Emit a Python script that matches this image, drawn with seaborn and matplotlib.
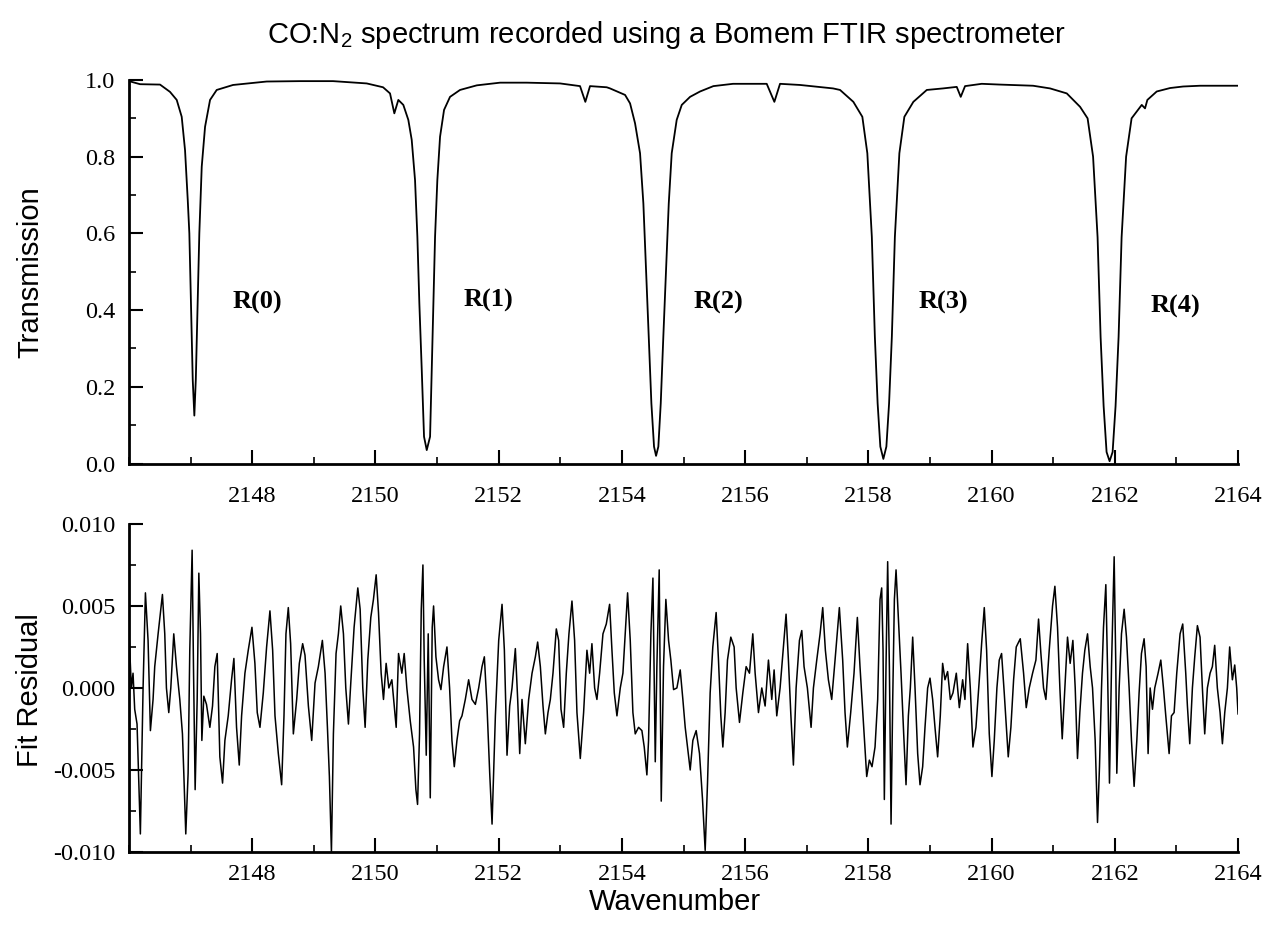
import matplotlib
matplotlib.use('Agg')
import matplotlib.pyplot as plt
from matplotlib.ticker import MultipleLocator, FormatStrFormatter
import numpy as np
import pandas as pd
import seaborn as sns

# transmission spectrum (fit)
wn_top = [2146.000, 2146.179, 2146.503, 2146.665, 2146.774, 2146.855, 2146.909, 2146.953,
          2146.979, 2147.034, 2147.060, 2147.084, 2147.141, 2147.180, 2147.234, 2147.315,
          2147.423, 2147.688, 2148.235, 2148.775, 2149.311, 2149.858, 2150.123, 2150.236,
          2150.306, 2150.371, 2150.452, 2150.533, 2150.588, 2150.642, 2150.680, 2150.712,
          2150.751, 2150.788, 2150.832, 2150.886, 2150.913, 2150.940, 2150.967, 2151.004,
          2151.048, 2151.113, 2151.210, 2151.372, 2151.644, 2152.022, 2152.455, 2152.996,
          2153.320, 2153.406, 2153.482, 2153.753, 2153.807, 2154.051, 2154.132, 2154.213,
          2154.294, 2154.348, 2154.392, 2154.435, 2154.478, 2154.521, 2154.554, 2154.591,
          2154.630, 2154.672, 2154.716, 2154.760, 2154.808, 2154.889, 2154.971, 2155.106,
          2155.268, 2155.484, 2155.803, 2156.350, 2156.474, 2156.566, 2156.891, 2157.427,
          2157.540, 2157.756, 2157.902, 2157.983, 2158.056, 2158.105, 2158.150, 2158.194,
          2158.243, 2158.292, 2158.336, 2158.381, 2158.430, 2158.503, 2158.584, 2158.730,
          2158.948, 2159.212, 2159.434, 2159.499, 2159.569, 2159.840, 2160.137, 2160.673,
          2160.949, 2161.220, 2161.436, 2161.558, 2161.647, 2161.720, 2161.769, 2161.818,
          2161.866, 2161.915, 2161.964, 2162.012, 2162.061, 2162.110, 2162.183, 2162.272,
          2162.437, 2162.490, 2162.528, 2162.680, 2162.897, 2163.108, 2163.384, 2164.000]
trans = [0.997, 0.989, 0.988, 0.969, 0.948, 0.904, 0.817, 0.687,
         0.600, 0.218, 0.125, 0.220, 0.600, 0.774, 0.878, 0.948,
         0.974, 0.987, 0.996, 0.997, 0.997, 0.991, 0.981, 0.965,
         0.913, 0.948, 0.935, 0.896, 0.844, 0.739, 0.591, 0.418,
         0.244, 0.070, 0.035, 0.070, 0.244, 0.418, 0.591, 0.739,
         0.852, 0.922, 0.956, 0.974, 0.986, 0.993, 0.993, 0.991,
         0.984, 0.943, 0.984, 0.981, 0.978, 0.961, 0.939, 0.887,
         0.809, 0.678, 0.505, 0.331, 0.157, 0.044, 0.020, 0.044,
         0.157, 0.331, 0.505, 0.678, 0.809, 0.896, 0.935, 0.956,
         0.970, 0.984, 0.990, 0.990, 0.943, 0.990, 0.987, 0.978,
         0.974, 0.943, 0.904, 0.809, 0.591, 0.331, 0.157, 0.044,
         0.012, 0.044, 0.157, 0.331, 0.591, 0.809, 0.904, 0.943,
         0.974, 0.978, 0.982, 0.956, 0.984, 0.990, 0.988, 0.985,
         0.978, 0.965, 0.930, 0.900, 0.800, 0.590, 0.330, 0.150,
         0.030, 0.006, 0.030, 0.150, 0.330, 0.590, 0.800, 0.900,
         0.935, 0.926, 0.948, 0.970, 0.979, 0.983, 0.985, 0.985]

# fit residual, in units of 1e-3
wn_res = [2146.000, 2146.038, 2146.065, 2146.092, 2146.130, 2146.184, 2146.228, 2146.266,
          2146.309, 2146.347, 2146.390, 2146.417, 2146.472, 2146.542, 2146.580, 2146.607,
          2146.645, 2146.678, 2146.726, 2146.770, 2146.824, 2146.867, 2146.889, 2146.921,
          2146.959, 2146.986, 2147.024, 2147.046, 2147.073, 2147.106, 2147.133, 2147.160,
          2147.182, 2147.214, 2147.257, 2147.312, 2147.355, 2147.393, 2147.431, 2147.474,
          2147.518, 2147.556, 2147.610, 2147.664, 2147.702, 2147.745, 2147.789, 2147.827,
          2147.881, 2147.935, 2147.995, 2148.043, 2148.081, 2148.125, 2148.179, 2148.233,
          2148.287, 2148.331, 2148.369, 2148.423, 2148.477, 2148.515, 2148.547, 2148.585,
          2148.623, 2148.667, 2148.721, 2148.764, 2148.818, 2148.856, 2148.911, 2148.965,
          2149.019, 2149.073, 2149.138, 2149.182, 2149.220, 2149.252, 2149.285, 2149.317,
          2149.360, 2149.398, 2149.436, 2149.480, 2149.518, 2149.561, 2149.599, 2149.653,
          2149.713, 2149.751, 2149.794, 2149.832, 2149.875, 2149.924, 2149.967, 2150.011,
          2150.049, 2150.092, 2150.130, 2150.173, 2150.217, 2150.266, 2150.304, 2150.336,
          2150.374, 2150.428, 2150.466, 2150.509, 2150.564, 2150.618, 2150.656, 2150.683,
          2150.715, 2150.743, 2150.770, 2150.791, 2150.824, 2150.856, 2150.889, 2150.921,
          2150.943, 2150.981, 2151.024, 2151.062, 2151.106, 2151.160, 2151.203, 2151.241,
          2151.279, 2151.322, 2151.366, 2151.404, 2151.458, 2151.512, 2151.566, 2151.621,
          2151.675, 2151.729, 2151.767, 2151.810, 2151.854, 2151.892, 2151.946, 2152.000,
          2152.054, 2152.092, 2152.135, 2152.178, 2152.216, 2152.270, 2152.308, 2152.341,
          2152.378, 2152.432, 2152.486, 2152.541, 2152.595, 2152.632, 2152.676, 2152.719,
          2152.757, 2152.800, 2152.838, 2152.881, 2152.935, 2152.973, 2153.011, 2153.054,
          2153.097, 2153.140, 2153.189, 2153.232, 2153.270, 2153.324, 2153.378, 2153.432,
          2153.476, 2153.513, 2153.557, 2153.594, 2153.638, 2153.692, 2153.746, 2153.800,
          2153.838, 2153.876, 2153.919, 2153.973, 2154.016, 2154.054, 2154.092, 2154.135,
          2154.178, 2154.216, 2154.270, 2154.324, 2154.362, 2154.405, 2154.432, 2154.470,
          2154.503, 2154.541, 2154.567, 2154.605, 2154.638, 2154.675, 2154.713, 2154.757,
          2154.794, 2154.838, 2154.892, 2154.946, 2154.989, 2155.027, 2155.065, 2155.108,
          2155.151, 2155.205, 2155.259, 2155.308, 2155.351, 2155.389, 2155.432, 2155.475,
          2155.529, 2155.567, 2155.605, 2155.638, 2155.675, 2155.713, 2155.767, 2155.821,
          2155.854, 2155.908, 2155.962, 2156.016, 2156.070, 2156.124, 2156.162, 2156.216,
          2156.270, 2156.324, 2156.378, 2156.432, 2156.470, 2156.513, 2156.567, 2156.621,
          2156.664, 2156.702, 2156.740, 2156.783, 2156.827, 2156.881, 2156.919, 2156.956,
          2157.010, 2157.070, 2157.108, 2157.162, 2157.216, 2157.259, 2157.302, 2157.351,
          2157.405, 2157.459, 2157.529, 2157.583, 2157.621, 2157.659, 2157.713, 2157.767,
          2157.821, 2157.864, 2157.910, 2157.973, 2158.016, 2158.059, 2158.108, 2158.151,
          2158.189, 2158.216, 2158.238, 2158.259, 2158.286, 2158.313, 2158.341, 2158.368,
          2158.395, 2158.422, 2158.449, 2158.486, 2158.530, 2158.573, 2158.611, 2158.649,
          2158.681, 2158.719, 2158.757, 2158.800, 2158.838, 2158.881, 2158.919, 2158.962,
          2159.000, 2159.043, 2159.081, 2159.124, 2159.167, 2159.205, 2159.243, 2159.286,
          2159.330, 2159.373, 2159.427, 2159.476, 2159.530, 2159.567, 2159.611, 2159.654,
          2159.697, 2159.746, 2159.800, 2159.838, 2159.881, 2159.919, 2159.962, 2160.005,
          2160.043, 2160.086, 2160.124, 2160.162, 2160.205, 2160.270, 2160.313, 2160.357,
          2160.400, 2160.465, 2160.519, 2160.562, 2160.611, 2160.665, 2160.719, 2160.762,
          2160.800, 2160.843, 2160.881, 2160.935, 2160.989, 2161.027, 2161.070, 2161.108,
          2161.146, 2161.189, 2161.232, 2161.275, 2161.319, 2161.357, 2161.394, 2161.432,
          2161.475, 2161.513, 2161.557, 2161.600, 2161.638, 2161.681, 2161.719, 2161.751,
          2161.784, 2161.816, 2161.854, 2161.881, 2161.913, 2161.946, 2161.989, 2162.016,
          2162.032, 2162.070, 2162.108, 2162.151, 2162.189, 2162.232, 2162.270, 2162.313,
          2162.357, 2162.394, 2162.432, 2162.475, 2162.508, 2162.540, 2162.573, 2162.611,
          2162.648, 2162.702, 2162.746, 2162.789, 2162.827, 2162.881, 2162.919, 2162.962,
          2163.005, 2163.059, 2163.102, 2163.151, 2163.178, 2163.216, 2163.259, 2163.297,
          2163.340, 2163.383, 2163.421, 2163.459, 2163.502, 2163.546, 2163.583, 2163.621,
          2163.664, 2163.708, 2163.746, 2163.784, 2163.827, 2163.864, 2163.908, 2163.946,
          2163.978, 2164.000]
resid_milli = [3.3, 0.0, 0.9, -1.3, -2.2, -8.9, 0.0, 5.8,
               2.9, -2.6, -0.7, 1.3, 3.3, 5.7, 3.3, 0.0,
               -1.5, 0.0, 3.3, 1.3, -0.7, -2.8, -5.2, -8.9,
               -5.2, 2.3, 8.4, 1.3, -6.2, -0.7, 7.0, 3.3,
               -3.2, -0.5, -1.0, -2.4, -1.1, 1.3, 2.1, -4.2,
               -5.8, -3.2, -1.7, 0.5, 1.8, -2.4, -4.7, -1.7,
               0.9, 2.3, 3.7, 1.5, -1.5, -2.4, -0.3, 2.5,
               4.7, 2.3, -1.7, -4.0, -5.9, -1.7, 3.3, 4.9,
               2.7, -2.8, -0.7, 1.5, 2.7, 2.0, -1.1, -3.2,
               0.3, 1.3, 2.9, 0.9, -2.4, -5.4, -10.0, -2.8,
               2.1, 3.3, 5.0, 3.3, 0.0, -2.2, 0.3, 3.7,
               6.1, 4.8, 0.0, -2.4, 1.7, 4.3, 5.4, 6.9,
               4.6, 0.9, -0.7, 1.5, 0.0, 0.5, -1.1, -2.4,
               2.1, 0.9, 2.1, 0.0, -2.0, -3.6, -6.2, -7.1,
               -2.8, 4.8, 7.5, 1.7, -4.1, 3.3, -6.7, 3.7,
               5.0, 1.9, 0.5, -0.1, 1.3, 2.5, 0.0, -3.2,
               -4.8, -3.2, -2.0, -1.7, -0.7, 0.5, -0.7, -1.0,
               0.0, 1.3, 1.9, -1.1, -5.2, -8.3, -1.7, 2.9,
               5.1, 2.3, -4.1, -1.1, 0.0, 2.4, -0.7, -4.0,
               -0.7, -3.4, -0.7, 0.9, 1.9, 2.8, 1.3, -1.1,
               -2.8, -1.5, -0.7, 0.9, 3.6, 2.9, -1.3, -2.4,
               0.9, 3.3, 5.3, 2.9, -1.5, -4.3, -1.5, 2.3,
               0.9, 2.7, 0.0, -0.7, 0.9, 3.3, 3.9, 5.1,
               2.3, -0.3, -1.7, 0.0, 0.9, 3.3, 5.8, 2.9,
               -1.5, -2.8, -2.4, -2.6, -3.6, -5.3, -3.2, 3.3,
               6.7, -4.5, 1.3, 7.2, -6.9, 1.3, 5.4, 2.9,
               1.7, -0.1, 0.0, 1.1, -0.7, -2.4, -3.6, -5.0,
               -3.2, -2.6, -4.0, -6.8, -9.9, -5.8, -0.3, 2.5,
               4.6, 1.7, -1.7, -3.6, -1.5, 1.7, 3.1, 2.5,
               0.0, -2.1, -0.3, 1.3, 0.9, 3.3, 0.9, -1.5,
               0.0, -1.1, 1.7, -0.7, 1.1, -1.7, 0.0, 2.5,
               4.5, 1.7, -1.5, -4.7, 0.0, 2.9, 3.5, 1.3,
               0.0, -2.4, 0.0, 1.7, 3.3, 4.9, 2.3, 0.5,
               -0.7, 1.7, 4.9, 1.7, -1.5, -3.6, -1.5, 0.9,
               4.3, 1.3, -1.5, -5.4, -4.4, -4.8, -3.6, -0.7,
               5.4, 6.1, 2.3, -6.8, 1.3, 7.7, 1.3, -8.3,
               -0.7, 5.4, 7.2, 4.3, 0.9, -2.8, -5.9, -1.7,
               0.0, 3.1, 0.0, -4.0, -5.9, -4.8, -2.4, 0.0,
               0.6, -0.7, -2.4, -4.2, -1.7, 1.5, 0.5, 1.0,
               -0.7, -0.3, 0.9, -1.2, 0.5, -0.7, 2.7, 0.0,
               -3.6, -2.4, 0.5, 2.7, 4.9, 2.3, -2.8, -5.4,
               -3.2, 0.0, 1.7, 2.1, -0.3, -4.2, -2.4, 0.5,
               2.5, 3.0, 0.9, -1.2, 0.0, 0.9, 1.7, 4.2,
               2.1, 0.0, -0.7, 2.3, 5.0, 6.2, 3.7, 0.0,
               -3.1, 0.0, 3.1, 1.5, 2.9, 0.0, -4.3, -1.5,
               0.9, 2.3, 3.3, 1.3, 0.0, -3.2, -8.2, -4.8,
               0.0, 3.7, 6.3, 1.3, -5.8, 1.3, 8.0, 1.3,
               -5.2, 0.0, 3.3, 4.8, 3.1, 0.0, -3.2, -6.0,
               -3.2, -0.3, 2.1, 3.0, 1.3, -4.0, 0.0, -1.3,
               0.0, 0.9, 1.7, 0.0, -1.7, -4.0, -1.7, -1.5,
               0.9, 3.3, 3.9, 0.9, -1.1, -3.4, 0.0, 1.9,
               3.8, 3.1, 0.0, -2.8, 0.0, 0.9, 1.3, 2.6,
               0.0, -1.5, -3.4, -1.5, 0.0, 2.5, 0.5, 1.4,
               0.0, -1.6]

line_labels = ['R(0)', 'R(1)', 'R(2)', 'R(3)', 'R(4)']
label_x = [2148.09, 2151.84, 2155.56, 2159.21, 2162.98]
label_y = [0.421, 0.426, 0.420, 0.419, 0.410]

df_top = pd.DataFrame({'wn': wn_top, 'T': trans})
df_res = pd.DataFrame({'wn': wn_res, 'res': np.array(resid_milli) * 1e-3})

sns.set_style('ticks')
plt.rcParams['font.family'] = ['Liberation Serif', 'DejaVu Serif']
plt.rcParams['mathtext.fontset'] = 'custom'
plt.rcParams['mathtext.rm'] = 'Liberation Sans'
plt.rcParams['text.color'] = 'black'
plt.rcParams['axes.edgecolor'] = 'black'
plt.rcParams['xtick.color'] = 'black'
plt.rcParams['ytick.color'] = 'black'

fig = plt.figure(figsize=(12.65, 9.3), dpi=100)
ax1 = fig.add_axes([0.102, 0.5016, 0.8767, 0.4124])
ax2 = fig.add_axes([0.102, 0.0839, 0.8767, 0.3527])

sns.lineplot(data=df_top, x='wn', y='T', ax=ax1, color='black', lw=1.3, estimator=None)
sns.lineplot(data=df_res, x='wn', y='res', ax=ax2, color='black', lw=1.1, estimator=None)

for a in (ax1, ax2):
    a.set_xlim(2146, 2164)
    a.xaxis.set_minor_locator(MultipleLocator(1))
    a.set_xticks([2148, 2150, 2152, 2154, 2156, 2158, 2160, 2162, 2164])
    a.tick_params(which='major', direction='in', length=10, width=1.5, labelsize=17.5,
                  colors='black')
    a.tick_params(which='minor', direction='in', length=5, width=1.2, colors='black')
    a.tick_params(axis='y', pad=10)
    a.set_xlabel('')
    a.set_ylabel('')
    for s in ('left', 'bottom'):
        a.spines[s].set_linewidth(2.0)
        a.spines[s].set_color('black')
    sns.despine(ax=a)

ax1.set_ylim(0, 1.0)
ax1.yaxis.set_major_locator(MultipleLocator(0.2))
ax1.yaxis.set_minor_locator(MultipleLocator(0.1))
ax1.yaxis.set_major_formatter(FormatStrFormatter('%.1f'))
ax1.tick_params(axis='x', pad=16)

ax2.set_ylim(-0.010, 0.010)
ax2.yaxis.set_major_locator(MultipleLocator(0.005))
ax2.yaxis.set_minor_locator(MultipleLocator(0.0025))
ax2.yaxis.set_major_formatter(FormatStrFormatter('%.3f'))
ax2.tick_params(axis='x', pad=9)

for lab, lx, ly in zip(line_labels, label_x, label_y):
    ax1.text(lx, ly, lab, fontsize=19, fontweight='bold', ha='center', va='center')

sans = ['Liberation Sans', 'DejaVu Sans']
fig.text(0.5265, 0.9624, 'CO:N$_\\mathregular{2}$ spectrum recorded using a Bomem FTIR spectrometer',
         ha='center', va='center', fontsize=21, family=sans)
fig.text(0.0237, 0.7075, 'Transmission', rotation=90, ha='center', va='center',
         fontsize=21, family=sans)
fig.text(0.0237, 0.258, 'Fit Residual', rotation=90, ha='center', va='center',
         fontsize=21, family=sans)
fig.text(0.5336, 0.030, 'Wavenumber', ha='center', va='center', fontsize=21, family=sans)

fig.savefig('out.png', dpi=100)
